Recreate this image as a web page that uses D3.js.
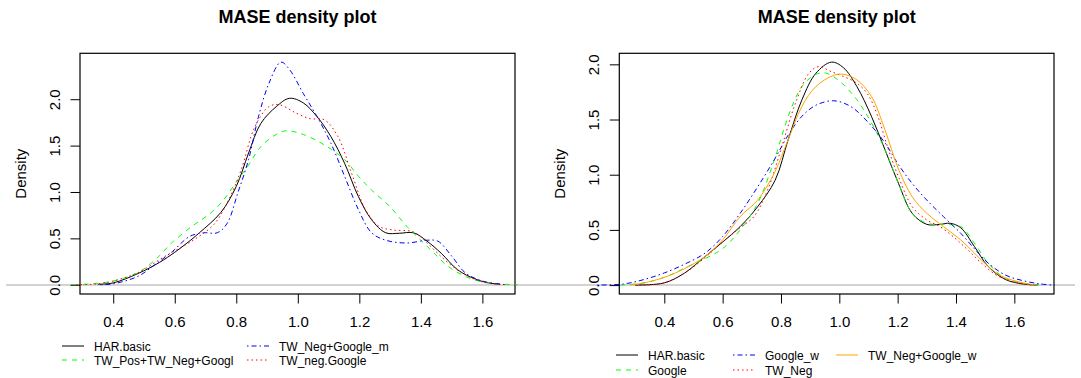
<!DOCTYPE html>
<html>
<head>
<meta charset="utf-8">
<script src="https://cdn.jsdelivr.net/npm/d3@7"></script>
<style>
  body { margin: 0; background: #fff; }
  svg text { font-family: "Liberation Sans", Arial, sans-serif; fill: #000; }
</style>
</head>
<body>
<svg id="chart" width="1081" height="378"></svg>
<script>
// ---- data: [MASE, density] ----
const xTicks = [0.4, 0.6, 0.8, 1.0, 1.2, 1.4, 1.6];
const yTicks = [0.0, 0.5, 1.0, 1.5, 2.0];

// left panel
const harBasicL = [[0.35,0.005],[0.40,0.02],[0.48,0.12],[0.55,0.24],[0.60,0.35],[0.64,0.45],[0.68,0.56],[0.75,0.78],[0.80,1.06],[0.84,1.42],[0.88,1.74],[0.93,1.92],[0.973,2.01],[1.018,1.96],[1.063,1.81],[1.107,1.60],[1.152,1.31],[1.197,0.95],[1.24,0.70],[1.286,0.56],[1.33,0.555],[1.376,0.56],[1.42,0.47],[1.466,0.34],[1.52,0.16],[1.578,0.06],[1.62,0.02],[1.658,0.005]];
const twPosNegGoogL = [[0.27,0.0],[0.33,0.01],[0.40,0.04],[0.48,0.13],[0.537,0.27],[0.593,0.46],[0.66,0.64],[0.704,0.74],[0.75,0.88],[0.805,1.13],[0.84,1.29],[0.88,1.49],[0.93,1.62],[0.962,1.66],[1.018,1.62],[1.085,1.51],[1.152,1.35],[1.197,1.17],[1.24,1.02],[1.30,0.84],[1.354,0.63],[1.40,0.48],[1.443,0.34],[1.488,0.20],[1.544,0.09],[1.60,0.03],[1.65,0.01],[1.715,0.0]];
const twNegGoogML = [[0.36,0.0],[0.40,0.01],[0.48,0.09],[0.537,0.22],[0.593,0.36],[0.648,0.52],[0.693,0.56],[0.738,0.56],[0.77,0.66],[0.805,0.99],[0.84,1.35],[0.872,1.81],[0.906,2.17],[0.945,2.40],[0.973,2.32],[1.018,2.06],[1.063,1.81],[1.107,1.53],[1.152,1.17],[1.197,0.81],[1.24,0.56],[1.286,0.48],[1.354,0.45],[1.42,0.48],[1.455,0.47],[1.50,0.31],[1.544,0.13],[1.60,0.04],[1.68,0.0]];
const twNegGoogleL = [[0.28,0.0],[0.35,0.01],[0.40,0.04],[0.48,0.13],[0.57,0.31],[0.66,0.48],[0.727,0.65],[0.77,0.88],[0.816,1.24],[0.86,1.70],[0.906,1.92],[0.94,1.94],[0.995,1.85],[1.04,1.79],[1.085,1.78],[1.13,1.60],[1.175,1.20],[1.22,0.81],[1.264,0.63],[1.31,0.59],[1.376,0.57],[1.42,0.45],[1.477,0.27],[1.533,0.13],[1.60,0.03],[1.68,0.0]];

// right panel
const harBasicR = [[0.30,0.0],[0.40,0.02],[0.47,0.11],[0.54,0.26],[0.60,0.39],[0.66,0.53],[0.72,0.71],[0.78,0.95],[0.825,1.32],[0.872,1.68],[0.92,1.92],[0.973,2.02],[1.014,1.97],[1.06,1.80],[1.11,1.53],[1.156,1.23],[1.203,0.92],[1.25,0.65],[1.30,0.55],[1.345,0.55],[1.38,0.56],[1.416,0.52],[1.463,0.35],[1.51,0.17],[1.57,0.05],[1.63,0.01],[1.68,0.0]];
const googleR = [[0.25,0.0],[0.33,0.02],[0.40,0.07],[0.483,0.17],[0.54,0.24],[0.60,0.33],[0.66,0.50],[0.72,0.74],[0.778,1.14],[0.825,1.53],[0.872,1.80],[0.92,1.91],[0.955,1.92],[1.00,1.85],[1.06,1.68],[1.11,1.47],[1.156,1.23],[1.203,0.92],[1.25,0.65],[1.30,0.56],[1.357,0.55],[1.416,0.53],[1.463,0.38],[1.51,0.20],[1.57,0.06],[1.65,0.01],[1.70,0.0]];
const googleWR = [[0.17,0.0],[0.26,0.01],[0.33,0.05],[0.40,0.11],[0.47,0.19],[0.54,0.29],[0.60,0.44],[0.66,0.65],[0.72,0.89],[0.778,1.14],[0.825,1.36],[0.872,1.53],[0.92,1.63],[0.98,1.67],[1.038,1.62],[1.097,1.48],[1.156,1.29],[1.203,1.09],[1.25,0.92],[1.30,0.77],[1.357,0.62],[1.416,0.47],[1.463,0.33],[1.51,0.20],[1.57,0.09],[1.63,0.04],[1.69,0.01],[1.735,0.0]];
const twNegR = [[0.30,0.0],[0.40,0.02],[0.47,0.11],[0.54,0.25],[0.60,0.39],[0.66,0.52],[0.707,0.62],[0.754,0.86],[0.80,1.23],[0.85,1.65],[0.896,1.92],[0.93,1.98],[0.967,1.94],[1.014,1.89],[1.06,1.83],[1.097,1.73],[1.132,1.53],[1.168,1.23],[1.203,0.98],[1.25,0.71],[1.30,0.59],[1.345,0.53],[1.39,0.44],[1.44,0.32],[1.487,0.20],[1.545,0.08],[1.63,0.01],[1.68,0.0]];
const twNegGoogWR = [[0.28,0.0],[0.33,0.02],[0.40,0.07],[0.47,0.15],[0.54,0.26],[0.60,0.41],[0.66,0.62],[0.72,0.77],[0.778,1.02],[0.825,1.32],[0.872,1.62],[0.92,1.80],[0.98,1.90],[1.014,1.91],[1.06,1.86],[1.11,1.71],[1.156,1.41],[1.203,1.05],[1.25,0.80],[1.30,0.65],[1.357,0.53],[1.416,0.41],[1.463,0.29],[1.51,0.17],[1.557,0.08],[1.63,0.02],[1.676,0.0]];

const leftNames = ["HAR.basic", "TW_Pos+TW_Neg+Googl", "TW_Neg+Google_m", "TW_neg.Google"];
const rightNames = ["HAR.basic", "Google", "Google_w", "TW_Neg", "TW_Neg+Google_w"];

// R line types
const LTY = { solid: null, dashed: "5,5", dotted: "1.5,3", dotdash: "1.5,3,5,3" };

const svg = d3.select("#chart");

// the abline(h = 0) crosses the whole device
svg.append("line")
    .attr("x1", 6).attr("x2", 1075)
    .attr("y1", 285).attr("y2", 285)
    .attr("stroke", "#c4c4c4").attr("stroke-width", 1.5);

function drawPanel(p) {
    const x = d3.scaleLinear().domain(p.xDomain).range([p.left, p.right]);
    const y = d3.scaleLinear().domain(p.yDomain).range([p.bottom, p.top]);
    const g = svg.append("g");

    // title
    g.append("text")
        .attr("x", (p.left + p.right) / 2).attr("y", 23)
        .attr("text-anchor", "middle")
        .style("font-size", "18px").style("font-weight", "bold")
        .text("MASE density plot");

    // y label
    g.append("text")
        .attr("transform", `translate(${p.left - 54},${(p.top + p.bottom) / 2}) rotate(-90)`)
        .attr("text-anchor", "middle")
        .style("font-size", "15px")
        .text("Density");

    // x axis
    const xa = g.append("g")
        .attr("transform", `translate(0,${p.bottom})`)
        .call(d3.axisBottom(x).tickValues(xTicks).tickSize(9.5).tickSizeOuter(0)
              .tickFormat(d3.format(".1f")));
    xa.select(".domain").remove();
    xa.selectAll("line").attr("stroke", "#000");
    xa.selectAll("text").attr("y", 32.5).attr("dy", null)
        .style("font-size", "15px").attr("fill", "#000");

    // y axis, labels rotated as in base R
    const ya = g.append("g")
        .attr("transform", `translate(${p.left},0)`)
        .call(d3.axisLeft(y).tickValues(yTicks).tickSize(9.5).tickSizeOuter(0)
              .tickFormat(d3.format(".1f")));
    ya.select(".domain").remove();
    ya.selectAll("line").attr("stroke", "#000");
    ya.selectAll("text")
        .attr("x", 0).attr("y", -20).attr("dy", null)
        .attr("transform", "rotate(-90)")
        .attr("text-anchor", "middle")
        .style("font-size", "15px").attr("fill", "#000");

    // box
    g.append("rect")
        .attr("x", p.left).attr("y", p.top)
        .attr("width", p.right - p.left).attr("height", p.bottom - p.top)
        .attr("fill", "none").attr("stroke", "#000").attr("stroke-width", 1.2);

    // density lines
    const line = d3.line()
        .x(d => x(d[0]))
        .y(d => y(d[1]))
        .curve(d3.curveCatmullRom.alpha(0.5));
    p.series.forEach(s => {
        g.append("path")
            .datum(s.values)
            .attr("fill", "none")
            .attr("stroke", s.color)
            .attr("stroke-width", 1)
            .attr("stroke-dasharray", LTY[s.lty])
            .attr("d", line);
    });

    // legend under the plot
    p.series.forEach((s, i) => {
        const pos = p.legend[i];
        g.append("line")
            .attr("x1", pos[0]).attr("x2", pos[0] + 22)
            .attr("y1", pos[1]).attr("y2", pos[1])
            .attr("stroke", s.color).attr("stroke-width", 1)
            .attr("stroke-dasharray", LTY[s.lty]);
        g.append("text")
            .attr("x", pos[0] + 32).attr("y", pos[1] + 4.5)
            .style("font-size", "12px")
            .text(s.name);
    });
}

drawPanel({
    left: 80, right: 515, top: 53.3, bottom: 294,
    xDomain: [0.292, 1.706], yDomain: [-0.0998, 2.495],
    series: [
        { name: leftNames[0], values: harBasicL, color: "#000000", lty: "solid" },
        { name: leftNames[1], values: twPosNegGoogL, color: "#00ff00", lty: "dashed" },
        { name: leftNames[2], values: twNegGoogML, color: "#0000ff", lty: "dotdash" },
        { name: leftNames[3], values: twNegGoogleL, color: "#ff0000", lty: "dotted" }
    ],
    legend: [[62, 346], [62, 360], [247, 346], [247, 360]]
});

drawPanel({
    left: 619.3, right: 1054, top: 53.3, bottom: 294,
    xDomain: [0.2457, 1.736], yDomain: [-0.0808, 2.1],
    series: [
        { name: rightNames[0], values: harBasicR, color: "#000000", lty: "solid" },
        { name: rightNames[1], values: googleR, color: "#00ff00", lty: "dashed" },
        { name: rightNames[2], values: googleWR, color: "#0000ff", lty: "dotdash" },
        { name: rightNames[3], values: twNegR, color: "#ff0000", lty: "dotted" },
        { name: rightNames[4], values: twNegGoogWR, color: "#ffa500", lty: "solid" }
    ],
    legend: [[616, 355], [616, 370], [733, 355], [733, 370], [836, 355]]
});
</script>
</body>
</html>
